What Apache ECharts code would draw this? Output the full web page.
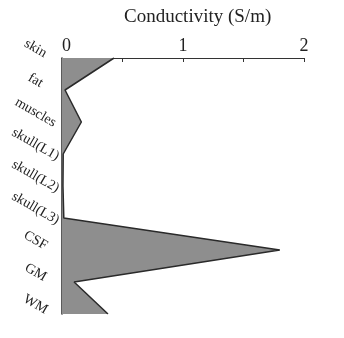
<!DOCTYPE html>
<html><head><meta charset="utf-8">
<script src="https://cdn.jsdelivr.net/npm/echarts@6/dist/echarts.min.js"></script>
<style>html,body{margin:0;padding:0;background:#fff}#c{width:344px;height:338px}</style>
</head><body><div id="c"></div>
<script>
const categories = ['skin','fat','muscles','skull(L1)','skull(L2)','skull(L3)','CSF','GM','WM'];
const conductivity = [0.43, 0.025, 0.16, 0.01, 0.008, 0.015, 1.80, 0.10, 0.38];
const xTicks = [0, 1, 2];
const titleText = 'Conductivity (S/m)';
const serif = '"Liberation Serif","DejaVu Serif",serif';
const chart = echarts.init(document.getElementById('c'));
chart.setOption({
  animation: false,
  title: {text: titleText, left: 119, top: 3,
    textStyle: {fontFamily: serif, fontSize: 19, fontWeight: 'normal', color: '#222'}},
  grid: {left: 62, right: 40, top: 58, bottom: 24},
  xAxis: {
    type: 'value', position: 'top', min: 0, max: 2, interval: 0.5,
    axisLine: {show: true, lineStyle: {color: '#333', width: 1.2}},
    axisTick: {show: true, inside: true, length: 4, lineStyle: {color: '#333'}},
    axisLabel: {fontFamily: serif, fontSize: 18, color: '#222', margin: 3, alignMinLabel: 'left',
      formatter: v => xTicks.includes(v) ? String(v) : ''},
    splitLine: {show: false}
  },
  yAxis: {
    type: 'category', data: categories, inverse: true, boundaryGap: false,
    axisLine: {show: true, lineStyle: {color: '#333', width: 1.6}},
    axisTick: {show: false},
    axisLabel: {fontFamily: serif, fontSize: 14, color: '#222', rotate: -30, margin: 32,
      align: 'center', verticalAlign: 'bottom', lineHeight: 22},
    splitLine: {show: false}
  },
  series: [{
    type: 'line', data: conductivity, symbol: 'none',
    lineStyle: {color: '#2a2a2a', width: 1.5},
    areaStyle: {color: '#8e8e8e', opacity: 1}
  }]
});
</script></body></html>
